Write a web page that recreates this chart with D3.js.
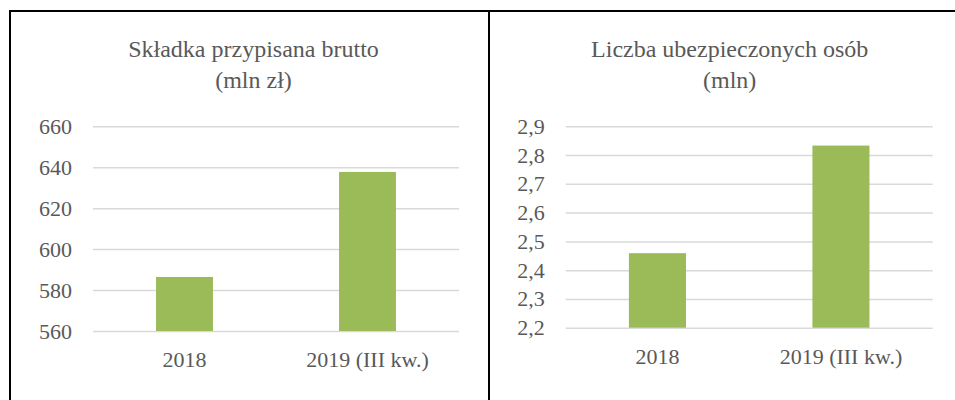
<!DOCTYPE html>
<html>
<head>
<meta charset="utf-8">
<script src="https://cdn.jsdelivr.net/npm/d3@7"></script>
<style>
  body { margin: 0; background: #fff; }
</style>
</head>
<body>
<div id="chart"></div>
<script>
// data
var categories = ["2018", "2019 (III kw.)"];

var premiumTitle = ["Składka przypisana brutto", "(mln zł)"];
var premiumValues = [586.4, 637.7];
var premiumTicks = [560, 580, 600, 620, 640, 660];

var insuredTitle = ["Liczba ubezpieczonych osób", "(mln)"];
var insuredValues = [2.459, 2.833];
var insuredTicks = [2.2, 2.3, 2.4, 2.5, 2.6, 2.7, 2.8, 2.9];

var W = 955, H = 400;
var FONT = "Liberation Serif, Tinos, Times New Roman, DejaVu Serif, serif";
var TEXT_COLOR = "#595959";
var plLocale = d3.formatLocale({decimal: ",", thousands: " ", grouping: [3], currency: ["", " zł"]});

var svg = d3.select("#chart").append("svg")
  .attr("width", W)
  .attr("height", H)
  .attr("font-family", FONT);

//panel frames (the table cells around the two charts)
svg.append("line").attr("x1", 9).attr("x2", W).attr("y1", 11).attr("y2", 11)
  .attr("stroke", "#000").attr("stroke-width", 2);
svg.append("line").attr("x1", 10).attr("x2", 10).attr("y1", 10).attr("y2", H)
  .attr("stroke", "#000").attr("stroke-width", 2);
svg.append("line").attr("x1", 489).attr("x2", 489).attr("y1", 10).attr("y2", H)
  .attr("stroke", "#000").attr("stroke-width", 2);

drawPanel({
  title: premiumTitle, values: premiumValues, ticks: premiumTicks,
  titleX: 253.5, left: 93, right: 459, top: 126.3, bottom: 331,
  fmt: plLocale.format("d")
});

drawPanel({
  title: insuredTitle, values: insuredValues, ticks: insuredTicks,
  titleX: 729.7, left: 565.7, right: 932.7, top: 126.3, bottom: 327.7,
  fmt: plLocale.format(".1f")
});

function drawPanel(cfg) {
  var g = svg.append("g");

  var x = d3.scaleBand()
    .domain(categories)
    .range([cfg.left, cfg.right])
    .paddingInner(0.689)
    .paddingOuter(0.3445);

  var y = d3.scaleLinear()
    .domain([cfg.ticks[0], cfg.ticks[cfg.ticks.length - 1]])
    .range([cfg.bottom, cfg.top]);

  //title, two lines
  g.selectAll(".title")
    .data(cfg.title)
    .enter().append("text")
    .attr("class", "title")
    .attr("x", cfg.titleX)
    .attr("y", (d, i) => 57 + i * 31)
    .attr("text-anchor", "middle")
    .attr("font-family", FONT)
    .attr("font-size", 24)
    .attr("fill", TEXT_COLOR)
    .text(d => d);

  //y axis: gridlines + labels, no domain line
  var yAxis = d3.axisLeft(y)
    .tickValues(cfg.ticks)
    .tickFormat(cfg.fmt)
    .tickSize(-(cfg.right - cfg.left))
    .tickPadding(21);

  var axisG = g.append("g")
    .attr("transform", "translate(" + cfg.left + ",0)")
    .call(yAxis)
    .attr("font-family", FONT)
    .attr("font-size", 22);
  axisG.select(".domain").remove();
  axisG.selectAll(".tick line")
    .attr("stroke", "#d9d9d9")
    .attr("stroke-width", 1.5);
  axisG.selectAll(".tick text")
    .attr("fill", TEXT_COLOR);

  //bars
  g.selectAll(".bar")
    .data(cfg.values)
    .enter().append("rect")
    .attr("class", "bar")
    .attr("x", (d, i) => x(categories[i]))
    .attr("width", x.bandwidth())
    .attr("y", d => y(d))
    .attr("height", d => y(cfg.ticks[0]) - y(d))
    .attr("fill", "#9bbb59");

  //category labels
  g.selectAll(".cat")
    .data(categories)
    .enter().append("text")
    .attr("class", "cat")
    .attr("x", d => x(d) + x.bandwidth() / 2)
    .attr("y", cfg.bottom + 36)
    .attr("text-anchor", "middle")
    .attr("font-family", FONT)
    .attr("font-size", 22)
    .attr("fill", TEXT_COLOR)
    .text(d => d);
}
</script>
</body>
</html>
